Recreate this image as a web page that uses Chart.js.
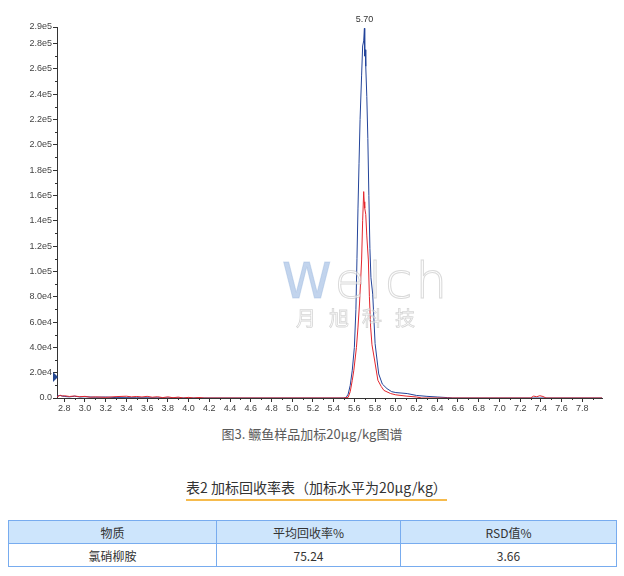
<!DOCTYPE html>
<html>
<head>
<meta charset="utf-8">
<script src="https://cdn.jsdelivr.net/npm/chart.js@4/dist/chart.umd.min.js"></script>
<style>
  html, body { margin: 0; padding: 0; background: #fff; }
  body { width: 624px; height: 576px; position: relative; overflow: hidden;
         font-family: "Noto Sans CJK SC", "Noto Sans", sans-serif; }
  #chartBox { position: absolute; left: 0; top: 0; width: 624px; height: 420px; }
  #mark { position: absolute; left: 282px; top: 255px; width: 150px; text-align: center;
          pointer-events: none; }
  #mark .en { font-family: "DejaVu Sans", sans-serif; font-weight: 200; font-size: 50px; line-height: 52px;
              letter-spacing: 3px; color: rgba(255,255,255,0.55);
              -webkit-text-stroke: 1px rgba(185,185,185,0.55); }
  #mark .en b { color: rgba(120,160,215,0.45); font-weight: normal; -webkit-text-stroke: 1px rgba(150,180,220,0.4); }
  #mark .cn { font-size: 20px; line-height: 22px; letter-spacing: 13px; margin-left: 10px;
              color: rgba(255,255,255,0.5); -webkit-text-stroke: 0.8px rgba(185,185,185,0.6); }
  #caption { position: absolute; left: 0; top: 425px; width: 624px; text-align: center;
             font-size: 13px; line-height: 18px; color: #5a5a5a; }
  #tblTitle { position: absolute; left: 186px; top: 477px; font-size: 14px; line-height: 20px;
              color: #333; border-bottom: 2px solid #f6bb4d; padding-bottom: 2px; white-space: nowrap; }
  table { position: absolute; left: 8px; top: 520px; width: 609px; border-collapse: collapse;
          font-size: 12px; color: #333; }
  td, th { border: 1px solid #78acef; height: 22px; padding: 0; text-align: center; font-weight: normal; }
  th { background: #cde5fc; }
</style>
</head>
<body>
<div id="chartBox"><canvas id="c"></canvas></div>
<div id="mark"><div class="en"><b>W</b>elch</div><div class="cn">月旭科技</div></div>
<div id="caption">图3. 鳜鱼样品加标20μg/kg图谱</div>
<div id="tblTitle">表2 加标回收率表（加标水平为20μg/kg）</div>
<table>
  <tr><th style="width:207px">物质</th><th style="width:183px">平均回收率%</th><th>RSD值%</th></tr>
  <tr><td>氯硝柳胺</td><td>75.24</td><td>3.66</td></tr>
</table>

<script>
// Retention time (min) and response for each trace
const blueTimes = [2.73, 2.76, 2.80, 2.85, 2.90, 2.95, 3.00, 3.10, 3.20, 3.30, 3.50, 4.00, 5.00, 5.50,
  5.52, 5.54, 5.56, 5.58, 5.60, 5.615, 5.625, 5.635, 5.645, 5.655, 5.67, 5.68, 5.69, 5.697,
  5.70, 5.705, 5.71, 5.72, 5.73, 5.74, 5.75, 5.76, 5.777, 5.80, 5.835, 5.87, 5.915, 5.96, 6.00,
  6.11, 6.20, 6.30, 6.40, 6.50, 6.55, 7.99];
const blueValues = [1500, 2000, 1200, 900, 1400, 800, 1000, 600, 800, 300, 200, 0, 0, 0,
  300, 3000, 10000, 22000, 40000, 70000, 110000, 150000, 185000, 220000, 255000, 278000, 282000, 292000,
  270000, 275000, 262000, 238000, 205000, 160000, 118000, 95000, 82000, 43000, 19000, 11000, 7400, 5000, 4300,
  3500, 2000, 1300, 800, 300, 0, 0];

const redTimes = [2.73, 2.76, 2.78, 2.80, 2.85, 2.90, 2.95, 3.00, 3.05, 3.10, 3.20, 3.30, 3.40, 3.45,
  3.50, 3.55, 3.60, 3.65, 3.70, 3.75, 3.80, 3.85, 3.90, 3.95, 4.00, 4.05, 4.10, 4.15, 5.50,
  5.54, 5.56, 5.58, 5.595, 5.62, 5.635, 5.65, 5.66, 5.67, 5.68, 5.69, 5.695, 5.70, 5.71, 5.72,
  5.735, 5.745, 5.757, 5.77, 5.795, 5.827, 5.86, 5.885, 5.95, 6.00, 6.10, 6.20, 6.25,
  7.30, 7.33, 7.36, 7.39, 7.42, 7.45, 7.99];
const redValues = [800, 2200, 1500, 1800, 1200, 1600, 1000, 1300, 600, 900, 500, 1100, 1400, 900,
  1200, 800, 1300, 600, 1000, 300, 900, 200, 700, 0, 500, 0, 400, 0, 0,
  500, 5000, 14000, 22000, 40000, 56000, 75000, 92000, 109000, 140000, 163000, 155000, 150000, 145000, 128000,
  109000, 80000, 56000, 42000, 30000, 14000, 9000, 6000, 3500, 2500, 1500, 800, 0,
  0, 1500, 1000, 1800, 1200, 0, 0];

// Axis ticks
const yTickValues = [0, 20000, 40000, 60000, 80000, 100000, 120000, 140000, 160000, 180000,
  200000, 220000, 240000, 260000, 280000, 293000];
const yMinorValues = [10000, 30000, 50000, 70000, 90000, 110000, 130000, 150000, 170000, 190000,
  210000, 230000, 250000, 270000];
const xTickValues = [2.8, 3.0, 3.2, 3.4, 3.6, 3.8, 4.0, 4.2, 4.4, 4.6, 4.8, 5.0, 5.2, 5.4, 5.6,
  5.8, 6.0, 6.2, 6.4, 6.6, 6.8, 7.0, 7.2, 7.4, 7.6, 7.8];
const xMinorValues = [2.9, 3.1, 3.3, 3.5, 3.7, 3.9, 4.1, 4.3, 4.5, 4.7, 4.9, 5.1, 5.3, 5.5, 5.7,
  5.9, 6.1, 6.3, 6.5, 6.7, 6.9, 7.1, 7.3, 7.5, 7.7, 7.9];
const xRange = [2.73, 7.99];
const yRange = [0, 293000];
const baselineMarker = 16600;

const toPoints = (xs, ys) => xs.map((x, i) => ({ x, y: ys[i] }));

function sci(v) {
  if (v === 0) return '0.0';
  const e = Math.floor(Math.log10(v));
  return (v / Math.pow(10, e)).toFixed(1) + 'e' + e;
}

const axisColor = '#333';
const tickFont = { family: 'Liberation Sans, Arial, sans-serif', size: 9 };

// Minor ticks, apex label and baseline marker
const extras = {
  id: 'extras',
  afterDraw(chart) {
    const { ctx, scales: { x, y } } = chart;
    ctx.save();
    ctx.strokeStyle = axisColor;
    ctx.lineWidth = 1;
    ctx.beginPath();
    yMinorValues.forEach(v => {
      const py = Math.round(y.getPixelForValue(v)) + 0.5;
      ctx.moveTo(x.left - 2, py); ctx.lineTo(x.left, py);
    });
    xMinorValues.forEach(v => {
      const px = Math.round(x.getPixelForValue(v)) + 0.5;
      ctx.moveTo(px, y.bottom); ctx.lineTo(px, y.bottom + 2);
    });
    ctx.stroke();

    // apex label for the blue trace
    const pts = chart.data.datasets[1].data;
    let top = pts[0];
    pts.forEach(p => { if (p.y > top.y) top = p; });
    ctx.fillStyle = '#333';
    ctx.font = '9px "Liberation Sans", Arial, sans-serif';
    ctx.textAlign = 'center';
    ctx.textBaseline = 'bottom';
    ctx.fillText(top.x.toFixed(2), x.getPixelForValue(top.x), y.getPixelForValue(top.y) - 4);

    // baseline marker on the y axis
    const my = y.getPixelForValue(baselineMarker);
    ctx.fillStyle = '#24478f';
    ctx.beginPath();
    ctx.moveTo(x.left - 4, my - 5);
    ctx.lineTo(x.left + 1, my);
    ctx.lineTo(x.left - 4, my + 5);
    ctx.closePath();
    ctx.fill();
    ctx.restore();
  }
};

new Chart(document.getElementById('c'), {
  type: 'scatter',
  data: {
    datasets: [
      { label: 'red', data: toPoints(redTimes, redValues), showLine: true, borderColor: '#e3262d',
        borderWidth: 1, pointRadius: 0, tension: 0 },
      { label: 'blue', data: toPoints(blueTimes, blueValues), showLine: true, borderColor: '#23449a',
        borderWidth: 1, pointRadius: 0, tension: 0 }
    ]
  },
  options: {
    responsive: true,
    maintainAspectRatio: false,
    animation: false,
    events: [],
    layout: { padding: { top: 27, right: 22, left: 0, bottom: 0 } },
    plugins: { legend: { display: false }, tooltip: { enabled: false } },
    scales: {
      x: {
        type: 'linear', min: xRange[0], max: xRange[1],
        afterBuildTicks: s => { s.ticks = xTickValues.map(v => ({ value: v })); },
        afterFit: s => { s.height = 22; },
        ticks: { callback: v => v.toFixed(1), font: tickFont, color: '#444', padding: 1,
                 maxRotation: 0, autoSkip: false },
        grid: { drawOnChartArea: false, tickLength: 4, color: axisColor },
        border: { color: axisColor }
      },
      y: {
        type: 'linear', min: yRange[0], max: yRange[1],
        afterBuildTicks: s => { s.ticks = yTickValues.map(v => ({ value: v })); },
        afterFit: s => { s.width = 57; },
        ticks: { callback: v => sci(v), font: tickFont, color: '#444', padding: 1, autoSkip: false },
        grid: { drawOnChartArea: false, tickLength: 4, color: axisColor },
        border: { color: axisColor }
      }
    }
  },
  plugins: [extras]
});
</script>
</body>
</html>
